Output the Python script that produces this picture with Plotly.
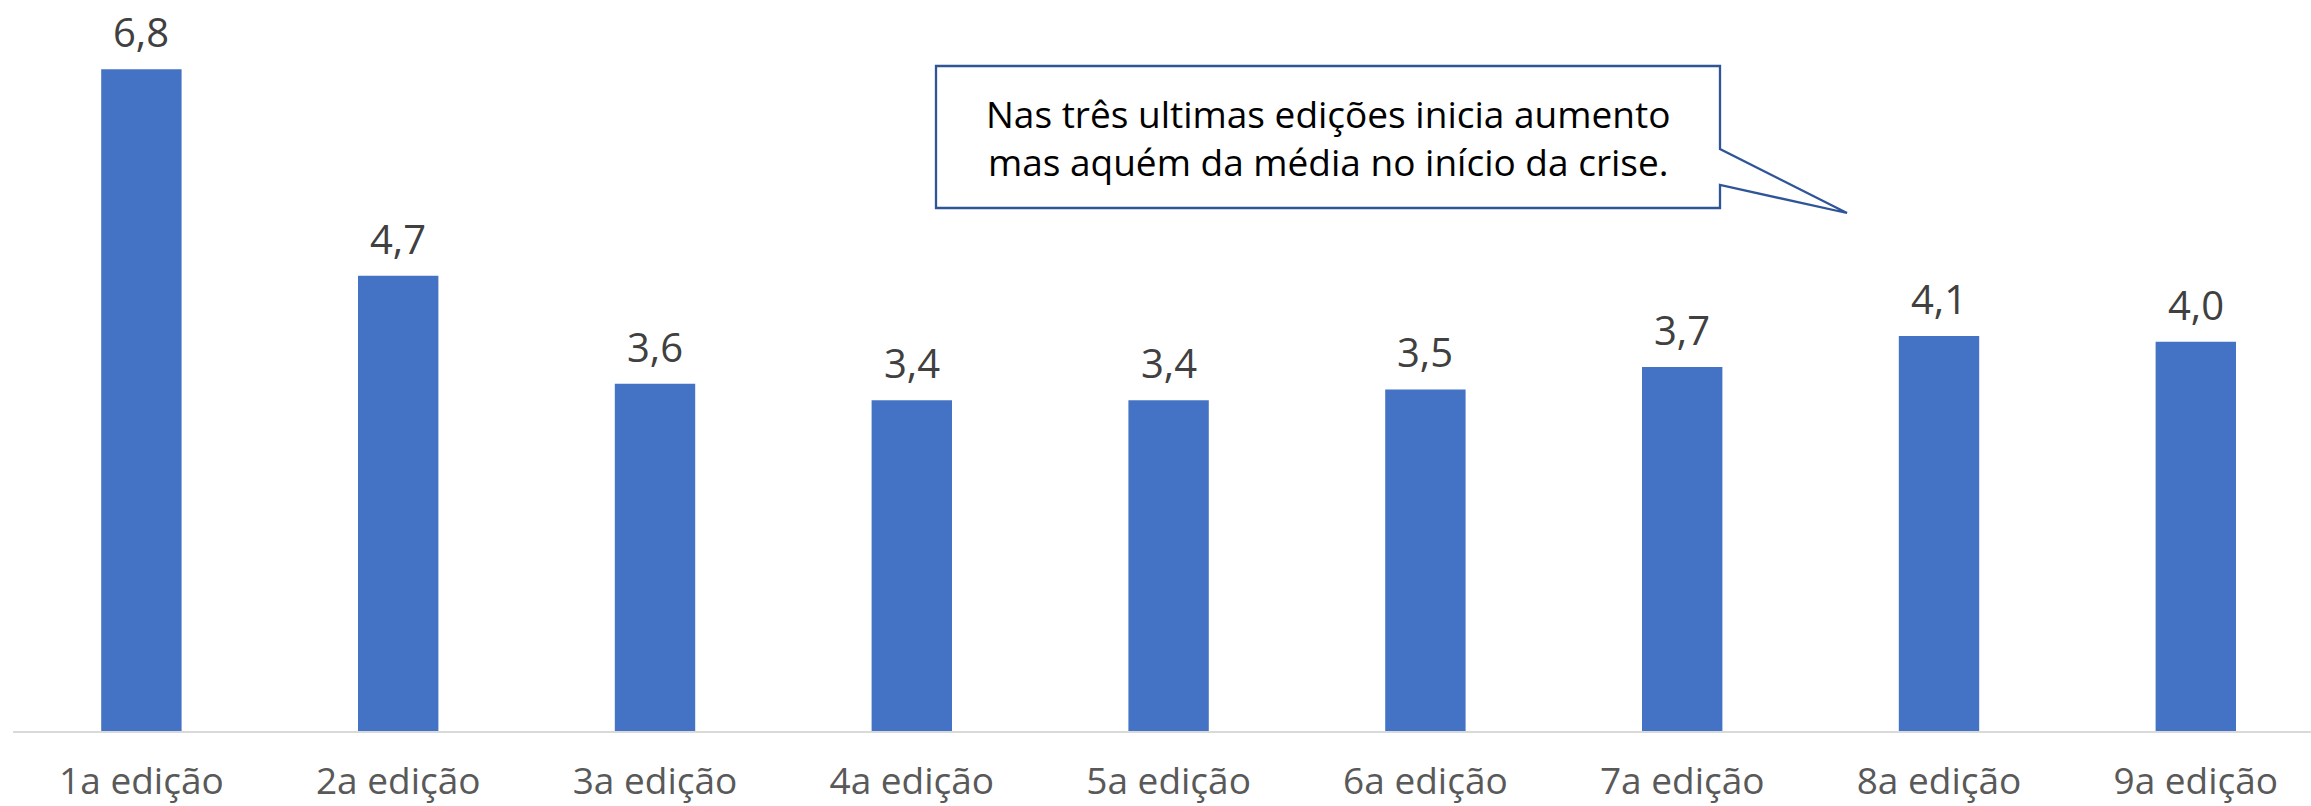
import plotly.graph_objects as go

edicoes = ['1a edição', '2a edição', '3a edição', '4a edição', '5a edição',
           '6a edição', '7a edição', '8a edição', '9a edição']
valores = [6.80, 4.68, 3.57, 3.40, 3.40, 3.51, 3.74, 4.06, 4.00]
nota = 'Nas três ultimas edições inicia aumento<br>mas aquém da média no início da crise.'

W, H = 2311, 806
ML, MR, MT, MB = 13, 0, 3, 75
pw, ph = W - ML - MR, H - MT - MB


def px(x):
    return (x - ML) / pw


def py(y):
    return (H - MB - y) / ph


fig = go.Figure()
fig.add_trace(go.Bar(x=edicoes, y=valores, marker_color='#4472c4',
                     marker_line_width=0, width=0.313))

# rótulos de dados
for e, v in zip(edicoes, valores):
    fig.add_annotation(x=e, y=v, text=f'{v:.1f}'.replace('.', ','),
                       showarrow=False, yanchor='bottom', yshift=8,
                       font=dict(family='Open Sans', size=40, color='#404040'))

# balão
x0, x1, y0, y1 = 936, 1720, 66, 208
path = (f'M {px(x0)},{py(y0)} L {px(x1)},{py(y0)} L {px(x1)},{py(149)} '
        f'L {px(1847)},{py(213)} L {px(x1)},{py(185)} L {px(x1)},{py(y1)} '
        f'L {px(x0)},{py(y1)} Z')
fig.add_shape(type='path', path=path, xref='paper', yref='paper',
              line=dict(color='#2f5597', width=2.3), fillcolor='white')
fig.add_annotation(x=px((x0 + x1) / 2), y=py(137), xref='paper', yref='paper',
                   xanchor='center', yanchor='middle',
                   text=nota, showarrow=False, align='center',
                   font=dict(family='Open Sans', size=37, color='black'))

fig.update_layout(
    width=W, height=H,
    margin=dict(l=ML, r=MR, t=MT, b=MB),
    plot_bgcolor='white', paper_bgcolor='white',
    showlegend=False,
    xaxis=dict(range=[-0.5, -0.5 + pw / 256.8], showgrid=False,
               showline=True, linecolor='#d9d9d9', linewidth=2,
               tickfont=dict(family='Open Sans', size=37, color='#595959'),
               ticks='', ticklabelstandoff=17, automargin=False),
    yaxis=dict(range=[0, ph / 97.3], visible=False, automargin=False),
)

fig.write_html('out.html', config={'displayModeBar': False},
               post_script="document.body.style.margin='0';")
